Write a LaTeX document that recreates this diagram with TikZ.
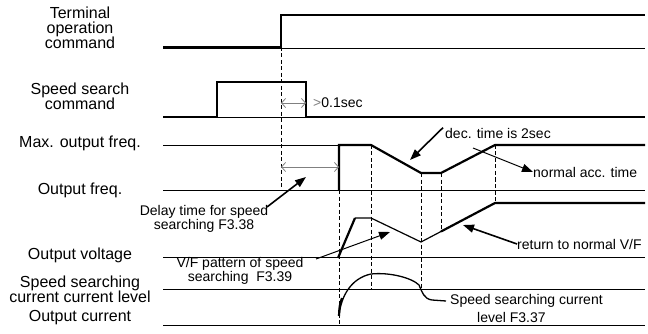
\documentclass[tikz,border=0pt]{standalone}
\usepackage{fontspec}
\setmainfont{Liberation Sans}
\usetikzlibrary{arrows.meta}
\begin{document}
\begin{tikzpicture}[x=1pt,y=-1pt,
  baseln/.style={line width=0.8pt},
  sig/.style={line width=2.2pt, line join=miter},
  midln/.style={line width=1.2pt},
  dashln/.style={line width=0.7pt, dash pattern=on 4pt off 2.5pt},
  lbl/.style={font=\fontsize{16}{15}\selectfont, align=center, inner sep=0pt},
  ann/.style={font=\fontsize{14}{12.5}\selectfont, align=center, inner sep=0pt},
  pointer/.style={line width=1.6pt, -{Triangle[length=11pt,width=8pt]}},
  thinpointer/.style={line width=1pt, -{Triangle[length=11pt,width=8pt]}},
  gap/.style={gray, line width=0.8pt, {Straight Barb[length=4pt,width=9pt]}-{Straight Barb[length=4pt,width=9pt]}}
]
\useasboundingbox (0,0) rectangle (648,334);

% left labels
\node[lbl] (toc) at (80,28) {Terminal\\operation\\command};
\node[lbl] (ssc) at (80,96) {Speed search\\command};
\node[lbl] (mof) at (80,143) {Max. output freq.};
\node[lbl] (of) at (80,190) {Output freq.};
\node[lbl] (ov) at (80,255) {Output voltage};
\node[lbl] (sscl) at (80,289) {Speed searching\\current current level};
\node[lbl] (oc) at (80,318) {Output current};

% baselines
\draw[baseln] (163,48) -- (645,48);
\draw[baseln] (163,117) -- (645,117);
\draw[baseln] (163,145) -- (339,145);
\draw[baseln] (163,190) -- (645,190);
\draw[baseln] (163,257) -- (645,257);
\draw[baseln] (163,289) -- (645,289);
\draw[baseln] (163,325) -- (645,325);

% dashed verticals
\draw[dashln] (281,47) -- (281,190);
\draw[dashln] (339,190) -- (339,325);
\draw[dashln] (371,145) -- (371,289);
\draw[dashln] (421,173) -- (421,289);
\draw[dashln] (441,173) -- (441,231);
\draw[dashln] (495,145) -- (495,203);

% signals
\draw[sig] (163,47) -- (281,47) -- (281,15) -- (645,15);
\draw[sig] (163,117) -- (217,117) -- (217,82) -- (306,82) -- (306,117) -- (645,117);
\draw[sig] (339,190) -- (339,145) -- (371,145) -- (421,173) -- (441,173) -- (495,145) -- (645,145);
\draw[sig] (338,258) -- (355,218);
\draw[midln] (355,218) -- (371,218) -- (421,242) -- (441,231.5);
\draw[sig] (441,231.5) -- (495,203) -- (645,203);

% current curve
\draw[line width=1.3pt] (339,316) .. controls (341,295) and (352,278) .. (371,274)
  .. controls (390,272) and (412,278) .. (419,285)
  .. controls (422,292) and (424,299) .. (432,300) -- (446,301);
\draw[line width=2.2pt] (339,316) .. controls (339.5,306) .. (342,298);

% gap arrows
\draw[gap] (281,103) -- (306,103);
\draw[gap] (281,167) -- (339,167);
\node[ann, anchor=west] (gt) at (313,103) {\textcolor{gray}{>}0.1sec};

% annotations
\node[ann, anchor=west] (dec) at (445,133) {dec. time is 2sec};
\coordinate (decT) at (410,160);
\draw[pointer] ([xshift=-2pt]dec.north west) -- (decT);

\node[ann, anchor=west] (nat) at (533,172) {normal acc. time};
\coordinate (accS) at (473,148);
\draw[thinpointer] (accS) -- (nat.west);

\node[ann] (dly) at (204,219) {Delay time for speed\\searching F3.38};
\coordinate (dlyS) at (267,207);
\coordinate (dlyT) at (306,177);
\draw[pointer] (dlyS) -- (dlyT);

\node[ann] (vfp) at (240,271) {V/F pattern of speed\\searching~~F3.39};
\coordinate (vfS) at (316,259);
\coordinate (vfT) at (390,232);
\draw[thinpointer] (vfS) -- (vfT);

\node[ann, anchor=west] (rtn) at (517,244) {return to normal V/F};
\coordinate (rtnT) at (463,225);
\draw[pointer] (rtn.west) -- (rtnT);

\node[ann, anchor=west] (scl1) at (450,301) {Speed searching current};
\node[ann, anchor=west] (scl2) at (477,317) {level F3.37};
\end{tikzpicture}
\end{document}
